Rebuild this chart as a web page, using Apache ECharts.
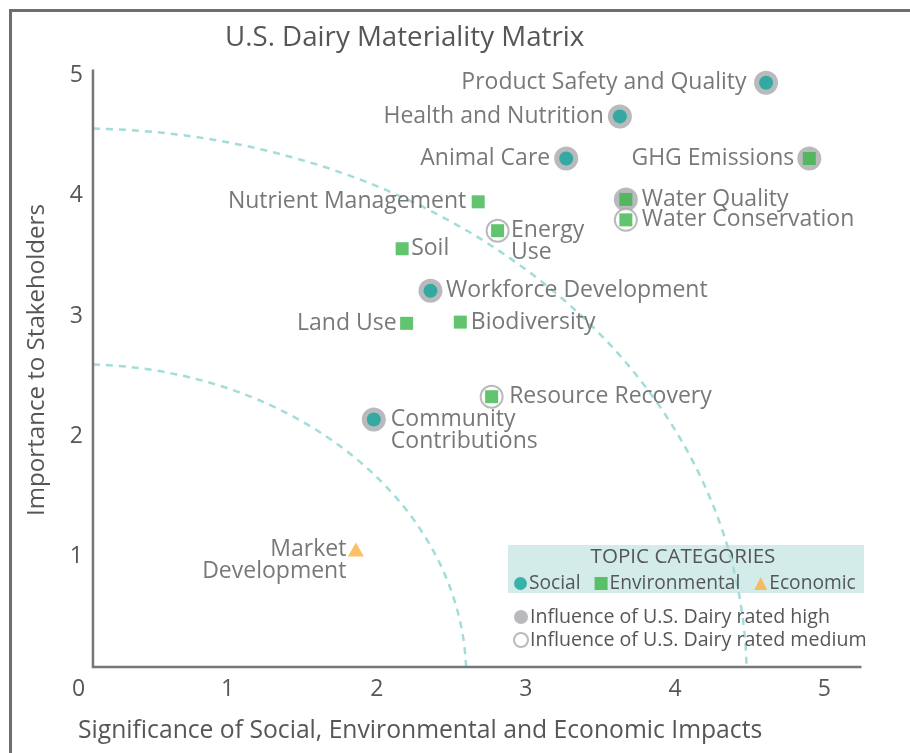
<!DOCTYPE html>
<html><head><meta charset="utf-8">
<script src="https://cdn.jsdelivr.net/npm/echarts@6/dist/echarts.min.js"></script>
<style>html,body{margin:0;padding:0;background:#fff}#c{width:910px;height:753px}</style>
</head><body><div id="c"></div>
<script>
// ---- data ----
const topicNames = ['Product Safety and Quality','Health and Nutrition','Animal Care','GHG Emissions','Water Quality','Water Conservation','Nutrient Management','Energy Use','Soil','Workforce Development','Land Use','Biodiversity','Resource Recovery','Community Contributions','Market Development'];
const topicLabels = ['Product Safety and Quality','Health and Nutrition','Animal Care','GHG Emissions','Water Quality','Water Conservation','Nutrient Management','Energy\nUse','Soil','Workforce Development','Land Use','Biodiversity','Resource Recovery','Community\nContributions','Market\nDevelopment'];
const significance = [4.61,3.63,3.27,4.90,3.67,3.67,2.68,2.81,2.17,2.36,2.20,2.56,2.77,1.98,1.86];
const importance   = [4.94,4.66,4.31,4.31,3.97,3.80,3.95,3.71,3.56,3.21,2.94,2.95,2.33,2.14,1.06];
const topicCategory = ['Social','Social','Social','Environmental','Environmental','Environmental','Environmental','Environmental','Environmental','Social','Environmental','Environmental','Environmental','Social','Economic'];
const influence = ['high','high','high','high','high','medium','none','medium','none','high','none','none','medium','high','none'];
const xTickLabels = ['0','1','2','3','4','5'];
const yTickLabels = ['','1','2','3','4','5'];
const arcRadiiX = [2.60, 4.48];
const arcRadiiY = [2.60, 4.56];
const categoryNames = ['Social','Environmental','Economic'];
const influenceNames = {high:'Influence of U.S. Dairy rated high', medium:'Influence of U.S. Dairy rated medium'};
const titleText = 'U.S. Dairy Materiality Matrix';
const xName = 'Significance of Social, Environmental and Economic Impacts';
const yName = 'Importance to Stakeholders';
const legendTitle = 'TOPIC CATEGORIES';

// ---- styles / layout ----
const axisCorner = [0.097, 0.083];
const xMax = 5.25, yMax = 5.05;
const TXT = '#555658';
const FONT = '"Open Sans"';
const catStyle = {
  Social: {symbol:'circle', size:14, color:'#12a59a'},
  Environmental: {symbol:'rect', size:13, color:'#3bb54a'},
  Economic: {symbol:'triangle', size:[16,14], color:'#fbb040'}
};
// [side, distance, vertical offset]
const labelPlacement = {
  'Product Safety and Quality':['left',12.5,0],
  'Health and Nutrition':['left',9,0],
  'Animal Care':['left',9,0],
  'GHG Emissions':['left',8.5,0],
  'Water Quality':['right',9.5,0],
  'Water Conservation':['right',9.5,0],
  'Nutrient Management':['left',5.5,0],
  'Energy Use':['right',7,11],
  'Soil':['right',2.5,0],
  'Workforce Development':['right',8.5,0],
  'Land Use':['left',3.5,0],
  'Biodiversity':['right',4,0],
  'Resource Recovery':['right',11,0],
  'Community Contributions':['right',10,11],
  'Market Development':['left',1.5,11]
};

const idx = topicNames.map((_, i) => i);
function ringData(level){
  return idx.filter(i => influence[i] === level).map(i => ({name: topicNames[i], value:[significance[i], importance[i]]}));
}
function catData(cat){
  return idx.filter(i => topicCategory[i] === cat).map(i => {
    const p = labelPlacement[topicNames[i]];
    return {name: topicNames[i], value:[significance[i], importance[i]],
      label:{show:true, formatter: topicLabels[i], position:p[0], distance:p[1], offset:[0,p[2]]}};
  });
}

const chart = echarts.init(document.getElementById('c'), null, {renderer:'canvas'});
const option = {
  animation:false,
  textStyle:{fontFamily:FONT},
  grid:{left:78.5, right:48.5, top:69.5, bottom:76, containLabel:false},
  xAxis:{type:'value', min:0, max:xMax, interval:1,
    axisLine:{show:false}, axisTick:{show:false}, splitLine:{show:false},
    axisLabel:{margin:1, fontSize:23, color:TXT, fontFamily:FONT,
      formatter:v => Number.isInteger(v) ? (xTickLabels[v] ?? '') : ''}},
  yAxis:{type:'value', min:0, max:yMax, interval:1, offset:-14.5,
    axisLine:{show:false}, axisTick:{show:false}, splitLine:{show:false},
    axisLabel:{margin:10, fontSize:23, color:TXT, fontFamily:FONT,
      formatter:v => Number.isInteger(v) ? (yTickLabels[v] ?? '') : ''}},
  legend:[
    {data:categoryNames.map(n => ({name:n, icon:catStyle[n].symbol})), left:509, top:569,
     itemWidth:13, itemHeight:13, itemGap:14, selectedMode:false,
     textStyle:{fontSize:19.2, color:TXT, fontFamily:FONT, padding:[0,0,0,-3]}},
    {data:[influenceNames.high, influenceNames.medium].map(n => ({name:n, icon:'circle'})), orient:'vertical', left:508, top:602,
     itemWidth:14, itemHeight:14, itemGap:3, selectedMode:false,
     textStyle:{fontSize:19.6, color:TXT, fontFamily:FONT, padding:[0,0,0,-3]}}
  ],
  graphic:[
    {type:'rect', shape:{x:10.5, y:10.5, width:1200, height:1200}, style:{fill:'none', stroke:'#6d6e70', lineWidth:3}, silent:true},
    {type:'text', x:225, y:38, style:{text:titleText, fontSize:27.7, fontFamily:FONT, fill:TXT, verticalAlign:'middle'}},
    {type:'text', x:78, y:731, style:{text:xName, fontSize:24.7, fontFamily:FONT, fill:TXT, verticalAlign:'middle'}},
    {type:'text', x:37, y:360, rotation:Math.PI/2, style:{text:yName, fontSize:24.1, fontFamily:FONT, fill:TXT, align:'center', verticalAlign:'middle'}},
    {type:'rect', z:-1, shape:{x:508, y:545, width:356, height:48}, style:{fill:'#d3ecea'}, silent:true},
    {type:'text', x:683, y:557, style:{text:legendTitle, fontSize:20.6, fontFamily:FONT, fill:TXT, align:'center', verticalAlign:'middle'}}
  ],
  series:[
    {type:'custom', name:'arcs', silent:true, z:1, data:arcRadiiX.map((rx, i) => [rx, arcRadiiY[i]]),
     renderItem:(params, api) => {
       const rx = api.value(0), ry = api.value(1);
       const s = api.size([1,1]);
       const x0 = axisCorner[0], y0 = axisCorner[1];
       const ys = ry*Math.sqrt(1-(x0/rx)*(x0/rx));
       const xe = rx*Math.sqrt(1-(y0/ry)*(y0/ry));
       const p1 = api.coord([x0, ys]), p2 = api.coord([xe, y0]);
       return {type:'path', shape:{pathData:`M${p1[0]} ${p1[1]} A${rx*s[0]} ${ry*s[1]} 0 0 1 ${p2[0]} ${p2[1]}`},
         style:{fill:'none', stroke:'#a3ddd9', lineWidth:2.5, lineDash:[7,6]}};
     }},
    {type:'custom', name:'axes', silent:true, z:3, data:[axisCorner],
     renderItem:(params, api) => {
       const c = api.coord([api.value(0), api.value(1)]);
       const top = api.coord([api.value(0), yMax]);
       const right = api.coord([xMax, api.value(1)]);
       return {type:'polyline', shape:{points:[top, c, right]}, style:{fill:'none', stroke:'#767678', lineWidth:2.5}};
     }},
    {type:'scatter', name:influenceNames.high, z:4, symbol:'circle', symbolSize:24, itemStyle:{color:'#a7a9ac'},
     emphasis:{disabled:true}, data:ringData('high')},
    {type:'scatter', name:influenceNames.medium, z:4, symbol:'circle', symbolSize:22, itemStyle:{color:'#ffffff', borderColor:'#a7a9ac', borderWidth:2},
     emphasis:{disabled:true}, data:ringData('medium')},
    ...categoryNames.map(cat => ({
      type:'scatter', name:cat, z:5, symbol:catStyle[cat].symbol, symbolSize:catStyle[cat].size,
      itemStyle:{color:catStyle[cat].color}, emphasis:{disabled:true},
      label:{fontSize:23, color:TXT, fontFamily:FONT, lineHeight:21.5},
      data:catData(cat)
    }))
  ]
};
chart.setOption(option);
</script></body></html>
